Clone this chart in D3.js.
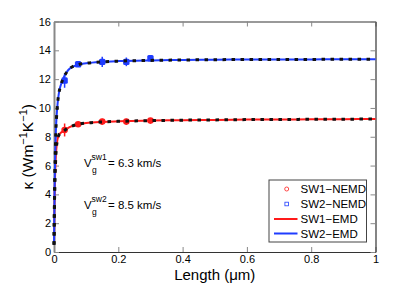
<!DOCTYPE html>
<html>
<head>
<meta charset="utf-8">
<script src="https://cdn.jsdelivr.net/npm/d3@7"></script>
<style>
  body { margin: 0; background: #fff; }
  text { font-family: "Liberation Sans", Arial, sans-serif; fill: #000; }
</style>
</head>
<body>
<div id="chart"></div>
<script>
// EMD curves
var emdLength = [0, 0.002, 0.005, 0.01, 0.015, 0.02, 0.03, 0.04, 0.05, 0.075, 0.1, 0.15, 0.2, 0.3, 0.4, 0.5, 0.6, 0.7, 0.8, 0.9, 1.0];
var sw1Emd = [0.5, 4.0, 6.3, 7.7, 8.1, 8.25, 8.4, 8.55, 8.68, 8.87, 8.95, 9.03, 9.07, 9.12, 9.15, 9.17, 9.19, 9.2, 9.21, 9.22, 9.23];
var sw2Emd = [0.5, 4.5, 7.8, 10.0, 11.0, 11.5, 12.1, 12.5, 12.75, 13.0, 13.1, 13.2, 13.25, 13.3, 13.33, 13.35, 13.36, 13.37, 13.37, 13.38, 13.38];

// NEMD points
var nemdLength = [0.033, 0.075, 0.15, 0.225, 0.3];
var sw1Nemd = [8.47, 8.87, 9.05, 9.05, 9.12];
var sw1Err = [0.45, 0.1, 0.2, 0.2, 0.15];
var sw2Nemd = [11.9, 13.03, 13.2, 13.2, 13.45];
var sw2Err = [0.5, 0.15, 0.35, 0.3, 0.15];

var xTicks = [0, 0.2, 0.4, 0.6, 0.8, 1];
var yTicks = [0, 2, 4, 6, 8, 10, 12, 14, 16];
var legendNames = ["SW1\u2212NEMD", "SW2\u2212NEMD", "SW1\u2212EMD", "SW2\u2212EMD"];

var W = 415, H = 284;
var pLeft = 54, pRight = 375.5, pTop = 21.5, pBottom = 252;
var red = "#ff1a1a", blue = "#1f3cff";

var svg = d3.select("#chart").append("svg").attr("width", W).attr("height", H);

var x = d3.scaleLinear().domain([0, 1]).range([pLeft, pRight]);
var y = d3.scaleLinear().domain([0, 16]).range([pBottom, pTop]);

// axes, MATLAB-style inward ticks with a box
var tickLen = 5;
var axB = svg.append("g").attr("transform", "translate(0," + pBottom + ")")
    .call(d3.axisBottom(x).tickValues(xTicks).tickFormat(d3.format("")).tickSizeInner(-tickLen).tickSizeOuter(0).tickPadding(3));
var axT = svg.append("g").attr("transform", "translate(0," + pTop + ")")
    .call(d3.axisTop(x).tickValues(xTicks).tickFormat("").tickSizeInner(-tickLen).tickSizeOuter(0));
var axL = svg.append("g").attr("transform", "translate(" + pLeft + ",0)")
    .call(d3.axisLeft(y).tickValues(yTicks).tickSizeInner(-tickLen).tickSizeOuter(0).tickPadding(3));
var axR = svg.append("g").attr("transform", "translate(" + pRight + ",0)")
    .call(d3.axisRight(y).tickValues(yTicks).tickFormat("").tickSizeInner(-tickLen).tickSizeOuter(0));

[axB, axT, axL, axR].forEach(function (a) {
    a.selectAll("text").style("font-size", "11px").style("font-family", "Liberation Sans, Arial, sans-serif");
    a.selectAll(".tick line").attr("stroke", "#888");
});
axL.select(".domain").attr("stroke", "#888").attr("stroke-width", 2);
axT.select(".domain").attr("stroke", "#777").attr("stroke-width", 1.5);
axB.select(".domain").attr("stroke", "#333").attr("stroke-width", 1.2);
axR.select(".domain").attr("stroke", "#333").attr("stroke-width", 1.2);

// curves
var line = d3.line()
    .x(function (d) { return x(d[0]); })
    .y(function (d) { return y(d[1]); })
    .curve(d3.curveMonotoneX);

var plot = svg.append("g");
var curves = [
    { vals: sw1Emd, color: red },
    { vals: sw2Emd, color: blue }
];

curves.forEach(function (c) {
    var pts = emdLength.map(function (l, i) { return [l, c.vals[i]]; });
    plot.append("path").attr("d", line(pts)).attr("fill", "none")
        .attr("stroke", c.color).attr("stroke-width", 2);
});

// NEMD markers with error bars
function drawNemd(vals, errs, color, shape) {
    var g = plot.append("g");
    nemdLength.forEach(function (l, i) {
        g.append("line")
            .attr("x1", x(l)).attr("x2", x(l))
            .attr("y1", y(vals[i] - errs[i])).attr("y2", y(vals[i] + errs[i]))
            .attr("stroke", color).attr("stroke-width", 1.5);
        if (shape == "circle") {
            g.append("circle").attr("cx", x(l)).attr("cy", y(vals[i])).attr("r", 3.3).attr("fill", color);
        } else {
            g.append("rect").attr("x", x(l) - 3.2).attr("y", y(vals[i]) - 3.2)
                .attr("width", 6.4).attr("height", 6.4).attr("rx", 1.5).attr("fill", color);
        }
    });
}
drawNemd(sw1Nemd, sw1Err, red, "circle");
drawNemd(sw2Nemd, sw2Err, blue, "rect");

// black dashed fit overlay
curves.forEach(function (c) {
    var pts = emdLength.map(function (l, i) { return [l, c.vals[i]]; });
    plot.append("path").attr("d", line(pts)).attr("fill", "none")
        .attr("stroke", "#111").attr("stroke-width", 3)
        .attr("stroke-dasharray", "3.5,5.5");
});

// axis titles
svg.append("text").attr("x", (pLeft + pRight) / 2).attr("y", 280)
    .attr("text-anchor", "middle").style("font-size", "15px")
    .text("Length (\u03bcm)");

var yl = svg.append("text")
    .attr("transform", "translate(33," + ((pTop + pBottom) / 2 + 10) + ") rotate(-90)")
    .attr("text-anchor", "middle").style("font-size", "15.5px");
yl.append("tspan").text("\u03ba (Wm");
yl.append("tspan").attr("dy", -6).style("font-size", "11px").text("\u22121");
yl.append("tspan").attr("dy", 6).text("K");
yl.append("tspan").attr("dy", -6).style("font-size", "11px").text("\u22121");
yl.append("tspan").attr("dy", 6).text(")");

// group velocity annotations
var vg = [
    { sup: "sw1", val: "= 6.3 km/s", yb: 166.5 },
    { sup: "sw2", val: "= 8.5 km/s", yb: 208.5 }
];
vg.forEach(function (v) {
    var g = svg.append("g");
    g.append("text").attr("x", 84).attr("y", v.yb).style("font-size", "11.5px").text("V");
    g.append("text").attr("x", 91.5).attr("y", v.yb - 7).style("font-size", "8.5px").text(v.sup);
    g.append("text").attr("x", 92).attr("y", v.yb + 6).style("font-size", "8.5px").text("g");
    g.append("text").attr("x", 108).attr("y", v.yb).style("font-size", "11.5px").text(v.val);
});

// legend
var lg = svg.append("g");
lg.append("rect").attr("x", 269).attr("y", 180).attr("width", 97.5).attr("height", 62)
    .attr("fill", "#fff").attr("stroke", "#444").attr("stroke-width", 1);
var rowY = [189, 204, 219, 233.5];
lg.append("circle").attr("cx", 286.7).attr("cy", rowY[0]).attr("r", 2)
    .attr("fill", "none").attr("stroke", red).attr("stroke-width", 0.8);
lg.append("rect").attr("x", 284.9).attr("y", rowY[1] - 1.8).attr("width", 3.6).attr("height", 3.6)
    .attr("fill", "none").attr("stroke", blue).attr("stroke-width", 0.8);
lg.append("line").attr("x1", 274).attr("x2", 297.5).attr("y1", rowY[2]).attr("y2", rowY[2])
    .attr("stroke", red).attr("stroke-width", 2);
lg.append("line").attr("x1", 274).attr("x2", 297.5).attr("y1", rowY[3]).attr("y2", rowY[3])
    .attr("stroke", blue).attr("stroke-width", 2);
legendNames.forEach(function (n, i) {
    lg.append("text").attr("x", 300.5).attr("y", rowY[i] + 4.2)
        .style("font-size", "11.5px").text(n);
});
</script>
</body>
</html>
